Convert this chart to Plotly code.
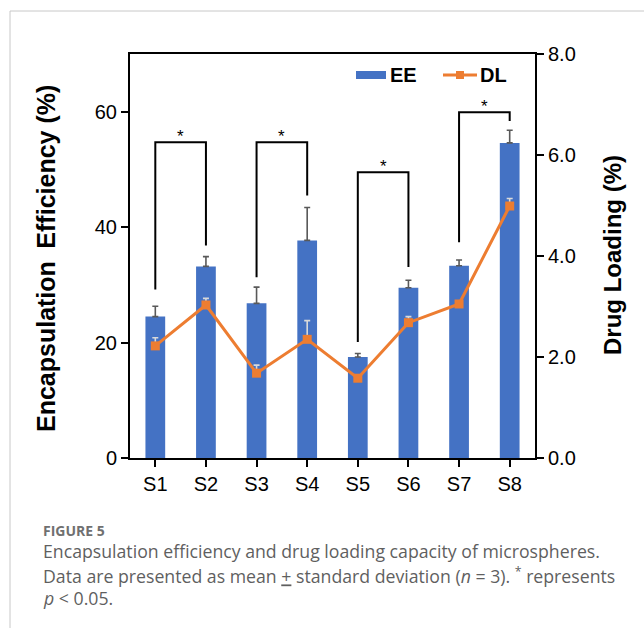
import plotly.graph_objects as go

categories = ["S1", "S2", "S3", "S4", "S5", "S6", "S7", "S8"]
ee_mean = [24.5, 33.2, 26.8, 37.7, 17.5, 29.5, 33.3, 54.6]
ee_sd = [1.8, 1.7, 2.8, 5.7, 0.6, 1.3, 1.0, 2.2]
dl_mean = [2.22, 3.03, 1.68, 2.35, 1.58, 2.68, 3.05, 4.99]
dl_sd = [0.16, 0.13, 0.16, 0.37, 0.04, 0.12, 0.05, 0.15]

# significance brackets: (left idx, right idx, top, left leg bottom, right leg bottom) in EE units
brackets = [
    (0, 1, 54.7, 29.2, 36.8),
    (2, 3, 54.7, 31.3, 45.5),
    (4, 5, 49.5, 20.1, 33.1),
    (6, 7, 59.9, 37.4, 58.4),
]

BLUE = "#4472C4"
ORANGE = "#ED7D31"
AX = "Liberation Sans, Arial, sans-serif"

xs = list(range(len(categories)))

fig = go.Figure()
fig.add_trace(go.Bar(
    x=xs, y=ee_mean, width=0.39, marker=dict(color=BLUE, line=dict(width=0)),
    error_y=dict(type="data", symmetric=False, array=ee_sd, arrayminus=[0]*8,
                 color="#595959", thickness=1.6, width=3),
    showlegend=False, yaxis="y"))
fig.add_trace(go.Scatter(
    x=xs, y=dl_mean, mode="lines+markers", yaxis="y2",
    line=dict(color=ORANGE, width=3),
    marker=dict(symbol="square", size=9, color=ORANGE),
    error_y=dict(type="data", symmetric=False, array=dl_sd, arrayminus=[0]*8,
                 color="#d9d9d9", thickness=1.6, width=3),
    showlegend=False))

shapes = []
annotations = []
for (a, b, top, la, lb) in brackets:
    shapes.append(dict(type="path", xref="x", yref="y",
                       path=f"M {a},{la} L {a},{top} L {b},{top} L {b},{lb}",
                       line=dict(color="black", width=2)))
    annotations.append(dict(x=(a + b) / 2, y=top, xref="x", yref="y", text="*",
                            showarrow=False, yanchor="bottom", yshift=-6,
                            font=dict(family=AX, size=17, color="black")))

# manual legend (paper px -> domain fractions)
L, R, T, B = 130, 535, 54, 458
def px(xp):
    return (xp - L) / (R - L)
def py(yp):
    return (B - yp) / (B - T)

shapes.append(dict(type="rect", xref="paper", yref="paper",
                   x0=px(356), x1=px(386), y0=py(79), y1=py(71),
                   fillcolor=BLUE, line=dict(width=0)))
shapes.append(dict(type="line", xref="paper", yref="paper",
                   x0=px(443), x1=px(477), y0=py(75), y1=py(75),
                   line=dict(color=ORANGE, width=3)))
shapes.append(dict(type="rect", xref="paper", yref="paper",
                   x0=px(456), x1=px(464), y0=py(79), y1=py(71),
                   fillcolor=ORANGE, line=dict(width=0)))
annotations.append(dict(x=px(388), y=py(75), xref="paper", yref="paper", text="<b>EE</b>",
                        showarrow=False, xanchor="left", yanchor="middle",
                        font=dict(family=AX, size=20, color="black")))
annotations.append(dict(x=px(478), y=py(75), xref="paper", yref="paper", text="<b>DL</b>",
                        showarrow=False, xanchor="left", yanchor="middle",
                        font=dict(family=AX, size=20, color="black")))

# axis titles
annotations.append(dict(x=px(46), y=py(259), xref="paper", yref="paper",
                        text="<b>Encapsulation\u2002Efficiency (%)</b>", textangle=-90,
                        showarrow=False, xanchor="center", yanchor="middle",
                        font=dict(family=AX, size=25, color="black")))
annotations.append(dict(x=px(612), y=py(255), xref="paper", yref="paper",
                        text="<b>Drug Loading (%)</b>", textangle=-90,
                        showarrow=False, xanchor="center", yanchor="middle",
                        font=dict(family=AX, size=24, color="black")))

# caption
CAP = "Open Sans, Noto Sans, sans-serif"
CAPC = "#5f5f5f"
annotations.append(dict(x=px(41), y=py(530), xref="paper", yref="paper",
                        text="<b>FIGURE 5</b>", showarrow=False, xanchor="left", yanchor="middle",
                        font=dict(family=CAP, size=14, color="#707070")))
cap_lines = [
    ("Encapsulation efficiency and drug loading capacity of microspheres.", 551),
    ("Data are presented as mean <u>+</u> standard deviation (<i>n</i> = 3). <sup>*</sup> represents", 575),
    ("<i>p</i> &lt; 0.05.", 598),
]
for t, yy in cap_lines:
    annotations.append(dict(x=px(41), y=py(yy), xref="paper", yref="paper",
                            text=t, showarrow=False, xanchor="left", yanchor="middle",
                            font=dict(family=CAP, size=17.7, color=CAPC)))

# frame
shapes.append(dict(type="line", xref="paper", yref="paper",
                   x0=px(10), x1=px(10), y0=py(11), y1=py(628),
                   line=dict(color="#c8c8c8", width=1)))
shapes.append(dict(type="line", xref="paper", yref="paper",
                   x0=px(10), x1=px(644), y0=py(11), y1=py(11),
                   line=dict(color="#c8c8c8", width=1)))

fig.update_layout(
    width=644, height=628,
    margin=dict(l=L, r=644 - R, t=T, b=628 - B),
    paper_bgcolor="white", plot_bgcolor="white",
    bargap=0.6,
    xaxis=dict(range=[-0.5, 7.5], tickvals=xs, ticktext=categories,
               showline=True, linecolor="black", linewidth=2, mirror=True,
               ticks="outside", ticklen=7, tickwidth=2, tickcolor="black",
               showgrid=False, zeroline=False,
               tickfont=dict(family=AX, size=20, color="black")),
    yaxis=dict(range=[0, 70], tickvals=[0, 20, 40, 60],
               showline=True, linecolor="black", linewidth=2,
               ticks="outside", ticklen=7, tickwidth=2, tickcolor="black",
               showgrid=False, zeroline=False,
               tickfont=dict(family=AX, size=20, color="black")),
    yaxis2=dict(range=[0, 8], tickvals=[0, 2, 4, 6, 8], tickformat=".1f",
                overlaying="y", side="right",
                showline=True, linecolor="black", linewidth=2,
                ticks="outside", ticklen=7, tickwidth=2, tickcolor="black",
                showgrid=False, zeroline=False,
                tickfont=dict(family=AX, size=20, color="black")),
    shapes=shapes, annotations=annotations,
)

fig.write_html("out.html")
